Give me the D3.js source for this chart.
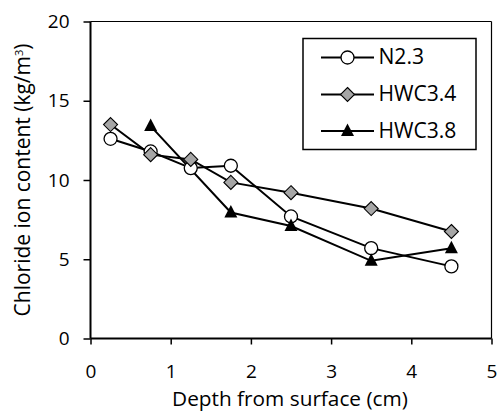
<!DOCTYPE html>
<html><head><meta charset="utf-8">
<script src="https://cdn.jsdelivr.net/npm/d3@7"></script>
<style>body{margin:0;background:#fff}text{font-family:"Open Sans",sans-serif;fill:#000}</style>
</head><body><svg id="c" width="499" height="412"></svg>
<script>
const depths = [0.25, 0.75, 1.25, 1.75, 2.5, 3.5, 4.5];
const n23 = [12.6, 11.8, 10.75, 10.9, 7.7, 5.7, 4.55];
const hwc34 = [13.5, 11.6, 11.3, 9.85, 9.2, 8.2, 6.75];
const hwc38Depths = [0.75, 1.75, 2.5, 3.5, 4.5];
const hwc38 = [13.4, 7.95, 7.1, 4.9, 5.7];
const xTicks = [0, 1, 2, 3, 4, 5];
const yTicks = [0, 5, 10, 15, 20];
const seriesNames = ["N2.3", "HWC3.4", "HWC3.8"];

const FONT = "'Open Sans', sans-serif";
const svg = d3.select("#c");
const L = 90.5, R = 491.5, T = 21.5, B = 338.5;
const x = d3.scaleLinear().domain([0, 5]).range([L, R]);
const y = d3.scaleLinear().domain([0, 20]).range([B, T]);

function fit(sel, target) {
  const w = sel.node().getComputedTextLength();
  const fs = parseFloat(sel.attr("font-size"));
  sel.attr("font-size", fs * target / w);
}

svg.append("line").attr("x1", L).attr("x2", R).attr("y1", T).attr("y2", T).attr("stroke", "#000").attr("stroke-width", 1.2);
svg.append("line").attr("x1", R).attr("x2", R).attr("y1", T).attr("y2", B).attr("stroke", "#000").attr("stroke-width", 1.2);

const xAxis = svg.append("g").attr("transform", `translate(0,${B})`)
  .call(d3.axisBottom(x).tickValues(xTicks).tickSize(6).tickPadding(8).tickFormat(d3.format("d")));
const yAxis = svg.append("g").attr("transform", `translate(${L},0)`)
  .call(d3.axisLeft(y).tickValues(yTicks).tickSize(7).tickPadding(14).tickFormat(d3.format("d")));
[xAxis, yAxis].forEach(g => {
  g.select(".domain").attr("stroke", "#000").attr("stroke-width", 2);
  g.selectAll(".tick line").attr("stroke", "#000").attr("stroke-width", 1.5);
  g.selectAll("text").attr("font-size", 19).attr("font-family", FONT).attr("fill", "#000");
});
xAxis.selectAll("text").attr("dy", null).attr("y", 39);
xAxis.select(".domain").attr("d", `M${L},0H${R}`);
yAxis.select(".domain").attr("d", `M0,${B}V${T}`);

const xt = svg.append("text").attr("x", 290).attr("y", 406).attr("text-anchor", "middle").attr("font-size", 16).text("Depth from surface (cm)");
fit(xt, 236);
const yt = svg.append("text").attr("transform", `translate(30,${(T + B) / 2}) rotate(-90)`).attr("text-anchor", "middle").attr("font-size", 16)
  .html('Chloride ion content (kg/m<tspan dy="-7" font-size="11">3</tspan><tspan dy="7">)</tspan>');
fit(yt, 275);

const line = d3.line().x(d => x(d[0])).y(d => y(d[1]));
const sN = depths.map((d, i) => [d, n23[i]]);
const s34 = depths.map((d, i) => [d, hwc34[i]]);
const s38 = hwc38Depths.map((d, i) => [d, hwc38[i]]);

function drawMarker(g, type, cx, cy) {
  if (type === 0) {
    g.append("circle").attr("cx", cx).attr("cy", cy).attr("r", 6.5).attr("fill", "#fff").attr("stroke", "#000").attr("stroke-width", 1.3);
  } else if (type === 1) {
    const s = 7;
    g.append("path").attr("d", `M${cx},${cy - s}L${cx + s},${cy}L${cx},${cy + s}L${cx - s},${cy}Z`).attr("fill", "#a6a6a6").attr("stroke", "#000").attr("stroke-width", 1.1);
  } else {
    g.append("path").attr("d", `M${cx},${cy - 7.5}L${cx + 6.5},${cy + 5}L${cx - 6.5},${cy + 5}Z`).attr("fill", "#000");
  }
}
const allSeries = [sN, s34, s38];
allSeries.forEach(s => {
  svg.append("path").datum(s).attr("d", line).attr("fill", "none").attr("stroke", "#000").attr("stroke-width", 2);
});
allSeries.forEach((s, k) => {
  const g = svg.append("g");
  s.forEach(d => drawMarker(g, k, x(d[0]), y(d[1])));
});

const lg = svg.append("g");
lg.append("rect").attr("x", 303).attr("y", 38.5).attr("width", 173).attr("height", 111).attr("fill", "#fff").attr("stroke", "#000").attr("stroke-width", 1.5);
const ly = [57.5, 94.5, 131];
seriesNames.forEach((n, k) => {
  lg.append("line").attr("x1", 321).attr("x2", 374).attr("y1", ly[k]).attr("y2", ly[k]).attr("stroke", "#000").attr("stroke-width", 2);
  drawMarker(lg, k, 347.5, ly[k]);
  const t = lg.append("text").attr("x", 378.5).attr("y", ly[k] + 6.5).attr("font-size", 17).text(n);
  if (k === 1) fit(t, 78);
});
const lfs = lg.selectAll("text").filter((d, i) => i === 1).attr("font-size");
lg.selectAll("text").attr("font-size", lfs);
</script></body></html>
